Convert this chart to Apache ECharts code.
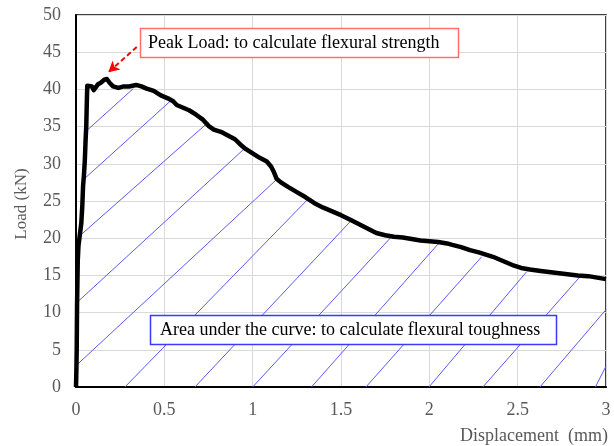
<!DOCTYPE html>
<html>
<head>
<meta charset="utf-8">
<script src="https://cdn.jsdelivr.net/npm/echarts@6/dist/echarts.min.js"></script>
<style>html,body{margin:0;padding:0;background:#fff}#c{width:614px;height:446px}</style>
</head>
<body>
<div id="c"></div>
<script>
// ---- data ----
var dispX = [0,0.002,0.004,0.005,0.006,0.008,0.01,0.014,0.022,0.03,0.036,0.04,0.045,0.05,0.054,0.058,0.06,0.062,0.064,0.075,0.09,0.1,0.11,0.125,0.14,0.16,0.175,0.19,0.21,0.24,0.27,0.3,0.34,0.37,0.4,0.44,0.48,0.52,0.55,0.57,0.6,0.64,0.68,0.72,0.75,0.78,0.82,0.86,0.9,0.93,0.96,1.0,1.04,1.08,1.105,1.12,1.135,1.16,1.2,1.25,1.3,1.35,1.4,1.45,1.5,1.55,1.6,1.65,1.7,1.75,1.8,1.85,1.9,1.95,2.0,2.05,2.1,2.13,2.18,2.23,2.28,2.32,2.36,2.4,2.44,2.48,2.52,2.57,2.63,2.7,2.77,2.84,2.9,2.95,3.0];
var loadY = [0,2,5,8,11,14,17,19,20.5,22,24.5,27,28.5,30.5,33,35,37,39,40.5,40.6,40.4,39.9,40.1,40.7,40.9,41.3,41.4,40.9,40.4,40.2,40.4,40.4,40.6,40.4,40.1,39.8,39.2,38.8,38.4,37.9,37.6,37.2,36.6,35.9,35.1,34.6,34.3,33.8,33.3,32.6,32.0,31.4,30.8,30.3,29.6,28.9,28.0,27.5,26.9,26.2,25.5,24.7,24.1,23.6,23.1,22.5,21.9,21.3,20.7,20.4,20.2,20.1,19.9,19.7,19.6,19.5,19.3,19.1,18.8,18.4,18.1,17.8,17.5,17.1,16.7,16.3,16.0,15.8,15.6,15.4,15.2,15.0,14.9,14.7,14.5];

// hatch segments (start x,y -> end x,y), data units
var hatchX1 = [0.058,0.048,0.03,0.012,0.006,0.277,0.673,1.0,1.333,1.641,1.998,2.303,2.626,2.94];
var hatchY1 = [34.4,28.0,20.5,11.5,3.0,0,0,0,0,0,0,0,0,0];
var hatchX2 = [0.324,0.542,0.74,0.947,1.136,1.315,1.551,1.786,2.06,2.296,2.551,2.852,3.0,3.0];
var hatchY2 = [40.1,38.6,35.4,31.9,27.9,25.3,22.2,20.2,19.5,17.5,15.5,14.8,10.4,2.8];

var xTicks = {min:0, max:3, step:0.5};
var yTicks = {min:0, max:50, step:5};

var arrowFrom = [0.344, 45.7];
var arrowTo = [0.183, 42.3];

var peakText = 'Peak Load: to calculate flexural strength';
var areaText = 'Area under the curve: to calculate flexural toughness';
var xName = 'Displacement  (mm)';
var yName = 'Load (kN)';

// ---- build ----
var curve = dispX.map(function(x,i){return [x, loadY[i]];});
var hatch = hatchX1.map(function(x,i){return {coords:[[x,hatchY1[i]],[hatchX2[i],hatchY2[i]]]};});
var serif = '"Liberation Serif","Times New Roman",serif';

var chart = echarts.init(document.getElementById('c'), null, {renderer:'canvas'});
chart.setOption({
  animation:false,
  backgroundColor:'#fff',
  grid:{left:76,right:8,top:15,bottom:59,show:true,borderColor:'#000',borderWidth:1.5,backgroundColor:'transparent'},
  xAxis:{type:'value',min:xTicks.min,max:xTicks.max,interval:xTicks.step,
    axisLine:{show:true,onZero:false,lineStyle:{color:'#000',width:2}},
    axisTick:{show:false},
    axisLabel:{color:'#595959',fontFamily:serif,fontSize:18,margin:14},
    splitLine:{show:true,lineStyle:{color:'#d9d9d9',width:1}}},
  yAxis:{type:'value',min:yTicks.min,max:yTicks.max,interval:yTicks.step,
    axisLine:{show:true,onZero:false,lineStyle:{color:'#000',width:2}},
    axisTick:{show:false},
    axisLabel:{color:'#595959',fontFamily:serif,fontSize:18,margin:15},
    splitLine:{show:true,lineStyle:{color:'#d9d9d9',width:1}}},
  series:[
    {type:'lines',coordinateSystem:'cartesian2d',polyline:false,silent:true,z:2,
     lineStyle:{color:'#5a5aff',width:1,opacity:1},data:hatch},
    {type:'line',data:curve,showSymbol:false,symbol:'none',z:5,
     lineStyle:{color:'#000',width:4.5,join:'round'},
     markLine:{silent:true,symbol:['none','arrow'],symbolSize:[9,11],
       label:{show:false},
       lineStyle:{type:[5,3],color:'#ff0000',width:2},
       data:[[{coord:arrowFrom},{coord:arrowTo}]]}}
  ],
  graphic:[
    {type:'rect',z:100,shape:{x:140.5,y:28.5,width:318,height:29},style:{fill:'#fff',stroke:'#ff6f6f',lineWidth:1.5}},
    {type:'text',z:101,x:148,y:43,style:{text:peakText,fill:'#000',font:'18px '+serif,textVerticalAlign:'middle',verticalAlign:'middle'}},
    {type:'rect',z:100,shape:{x:150.5,y:315.5,width:406,height:29},style:{fill:'#fff',stroke:'#3a3aff',lineWidth:1.5}},
    {type:'text',z:101,x:160,y:330,style:{text:areaText,fill:'#000',font:'18px '+serif,textVerticalAlign:'middle',verticalAlign:'middle'}},
    {type:'text',z:101,x:608,y:436,style:{text:xName,fill:'#595959',font:'18px '+serif,align:'right',textAlign:'right',verticalAlign:'middle',textVerticalAlign:'middle'}},
    {type:'text',z:101,x:22,y:204,rotation:Math.PI/2,style:{text:yName,fill:'#595959',font:'17px '+serif,align:'center',textAlign:'center',verticalAlign:'middle',textVerticalAlign:'middle'}}
  ]
});
</script>
</body>
</html>
